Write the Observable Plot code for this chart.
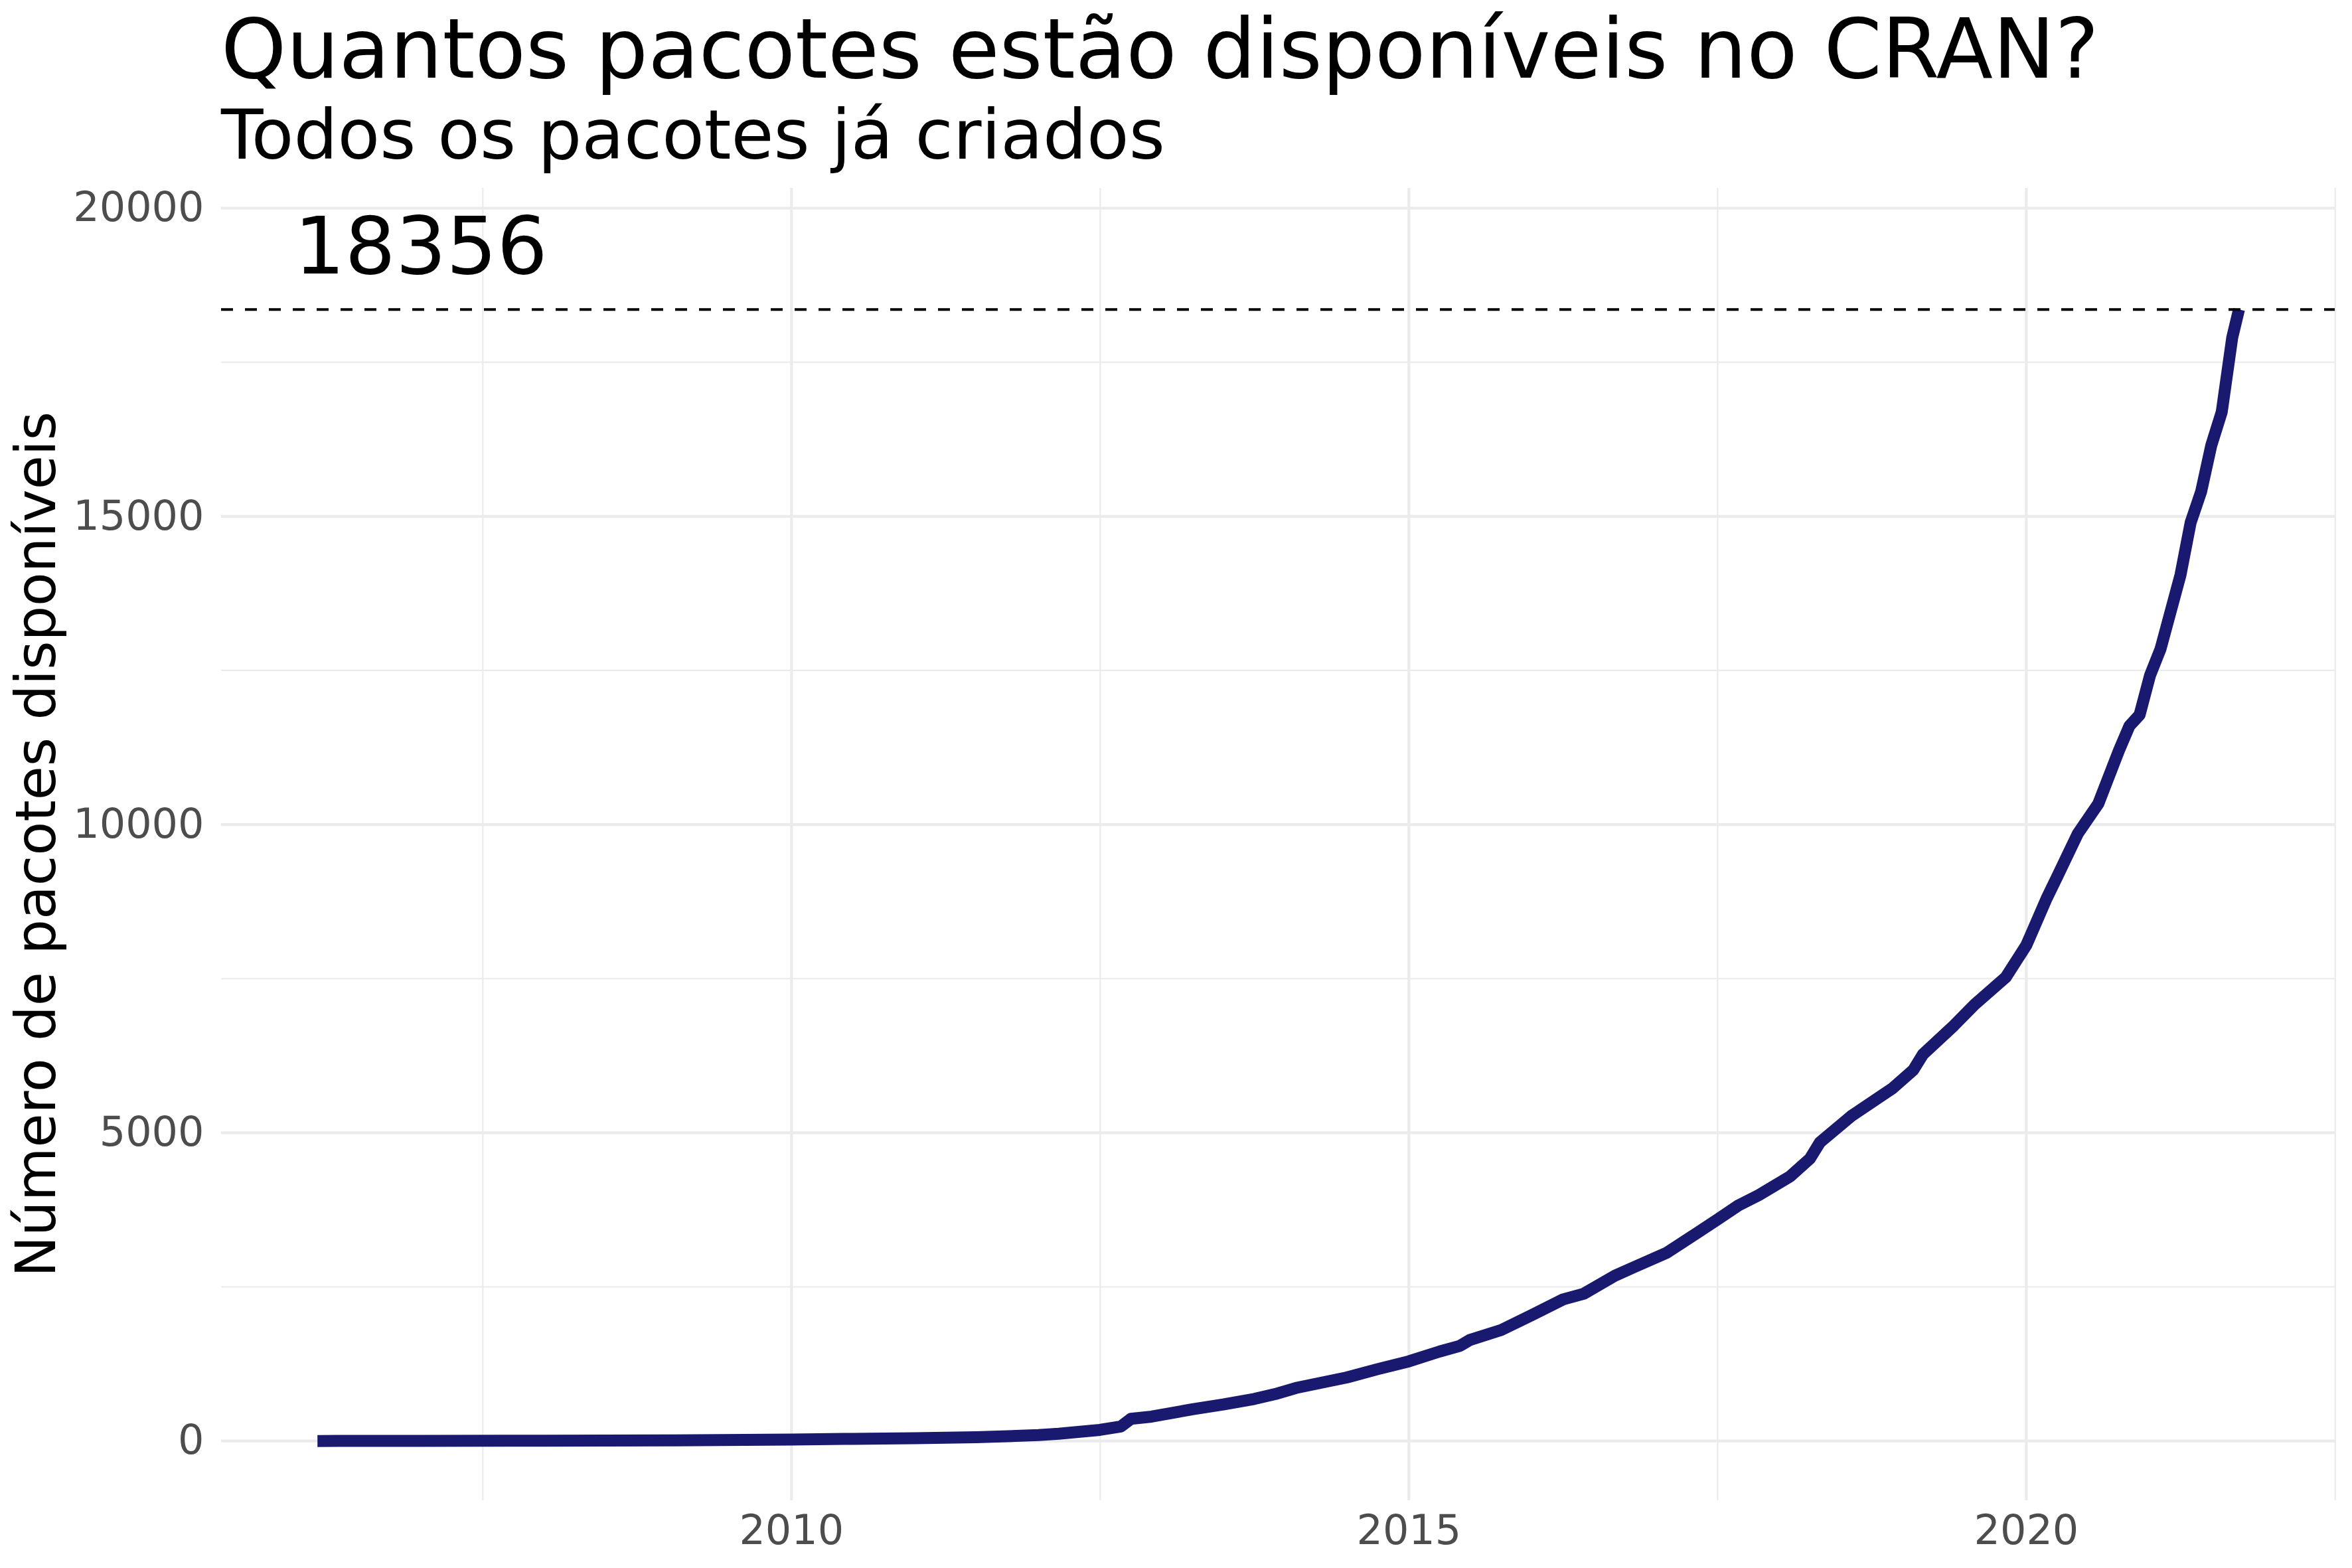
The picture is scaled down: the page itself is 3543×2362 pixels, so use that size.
<!DOCTYPE html>
<html>
<head>
<meta charset="utf-8">
<script src="https://cdn.jsdelivr.net/npm/d3@7"></script>
<script src="https://cdn.jsdelivr.net/npm/@observablehq/plot@0.6"></script>
<style>
  html, body { margin: 0; padding: 0; background: white; }
  #wrap { position: relative; width: 3543px; height: 2362px; background: white; overflow: hidden; }
  .t { position: absolute; font-family: "DejaVu Sans"; color: black; white-space: nowrap; line-height: normal; }
  #chart { position: absolute; left: 0; top: 265px; }
</style>
</head>
<body>
<div id="wrap">
  <div class="t" id="title" style="left:333px; top:1px; font-size:125px;">Quantos pacotes estão disponíveis no CRAN?</div>
  <div class="t" id="subtitle" style="left:333px; top:141.5px; font-size:104px;">Todos os pacotes já criados</div>
  <div id="chart"></div>
</div>
<script>
// ---- data ----
const dates = ["2006-03-01","2007-01-01","2008-01-01","2009-01-01","2010-01-01","2010-07-01","2011-01-01","2011-07-01","2012-01-01","2012-03-01","2012-07-01","2012-09-01","2012-10-01","2012-12-01","2013-04-01","2013-07-01","2013-10-01","2013-12-01","2014-02-01","2014-07-01","2014-10-01","2015-01-01","2015-04-01","2015-06-01","2015-07-01","2015-10-01","2016-01-01","2016-04-01","2016-06-01","2016-09-01","2016-11-01","2017-02-01","2017-05-01","2017-07-01","2017-09-01","2017-11-01","2018-02-01","2018-04-01","2018-05-01","2018-08-01","2018-12-01","2019-02-01","2019-03-01","2019-06-01","2019-08-01","2019-11-01","2020-01-01","2020-03-01","2020-04-01","2020-06-01","2020-08-01","2020-10-01","2020-11-01","2020-12-01","2021-01-01","2021-02-01","2021-04-01","2021-05-01","2021-06-01","2021-07-01","2021-08-01","2021-09-01","2021-09-21"];
const packages = [0,1,4,10,22,35,45,60,95,118,180,235,360,395,515,592,682,760,860,1030,1166,1292,1450,1543,1640,1800,2046,2297,2388,2680,2830,3051,3370,3590,3820,3990,4290,4580,4847,5270,5720,6020,6270,6740,7080,7521,8042,8800,9150,9850,10339,11201,11600,11780,12421,12850,14050,14900,15400,16150,16694,17900,18356];
const total = 18356;
const labelDate = "2007-01-01";
const labelOffsetValue = 1000;
const xTickYears = ["2005","2010","2015","2020","2025"];
const xLabelYears = ["2010","2015","2020"];
const yMajor = [0, 5000, 10000, 15000, 20000];
const yMinor = [2500, 7500, 12500, 17500];
const yLabel = "Número de pacotes disponíveis";

// ---- build ----
const parse = d3.utcParse("%Y-%m-%d");
const data = dates.map((d, i) => ({date: parse(d), n: packages[i]}));
const yearDate = y => d3.utcParse("%Y")(y);
const xMajorAll = xTickYears.map(yearDate);
const xMajor = xLabelYears.map(yearDate);
const xMinor = d3.pairs(xMajorAll).map(([a, b]) => new Date((+a + +b) / 2));

const x0 = +data[0].date, x1 = +data[data.length - 1].date;
const xpad = (x1 - x0) * 0.05;
const yTop = total + labelOffsetValue;
const ypad = yTop * 0.05;

const W = 3543, H = 2097;
const marginLeft = 333, marginRight = 26, marginTop = 18, marginBottom = 102;

const chart = Plot.plot({
  width: W, height: H,
  marginLeft, marginRight, marginTop, marginBottom,
  style: {fontFamily: "DejaVu Sans", background: "white", overflow: "visible"},
  x: {type: "utc", domain: [new Date(x0 - xpad), new Date(x1 + xpad)]},
  y: {domain: [-ypad, yTop + ypad]},
  marks: [
    Plot.ruleY(yMinor, {stroke: "#ebebeb", strokeWidth: 2.2}),
    Plot.ruleX(xMinor, {stroke: "#ebebeb", strokeWidth: 2.2}),
    Plot.ruleY(yMajor, {stroke: "#ebebeb", strokeWidth: 4.2}),
    Plot.ruleX(xMajor, {stroke: "#ebebeb", strokeWidth: 4.2}),
    Plot.line(data, {x: "date", y: "n", stroke: "#191970", strokeWidth: 18, strokeLinecap: "butt", strokeLinejoin: "round"}),
    Plot.ruleY([total], {stroke: "black", strokeWidth: 4, strokeDasharray: "18,18"}),
    Plot.text([String(total)], {x: () => parse(labelDate), y: () => total + labelOffsetValue, text: d => d, fontSize: 120, fill: "black", textAnchor: "middle", lineAnchor: "middle"}),
    Plot.axisX({ticks: xMajor, tickFormat: d3.utcFormat("%Y"), tickSize: 0, tickPadding: 21, fontSize: 62, color: "#4d4d4d", label: null}),
    Plot.axisY({ticks: yMajor, tickFormat: d => String(d), tickSize: 0, tickPadding: 26, fontSize: 62, color: "#4d4d4d", label: null}),
    Plot.text([yLabel], {frameAnchor: "left", rotate: -90, dx: -276.6, fontSize: 83, fill: "black", textAnchor: "middle", lineAnchor: "middle", text: d => d})
  ]
});
document.getElementById("chart").appendChild(chart);
</script>
</body>
</html>
